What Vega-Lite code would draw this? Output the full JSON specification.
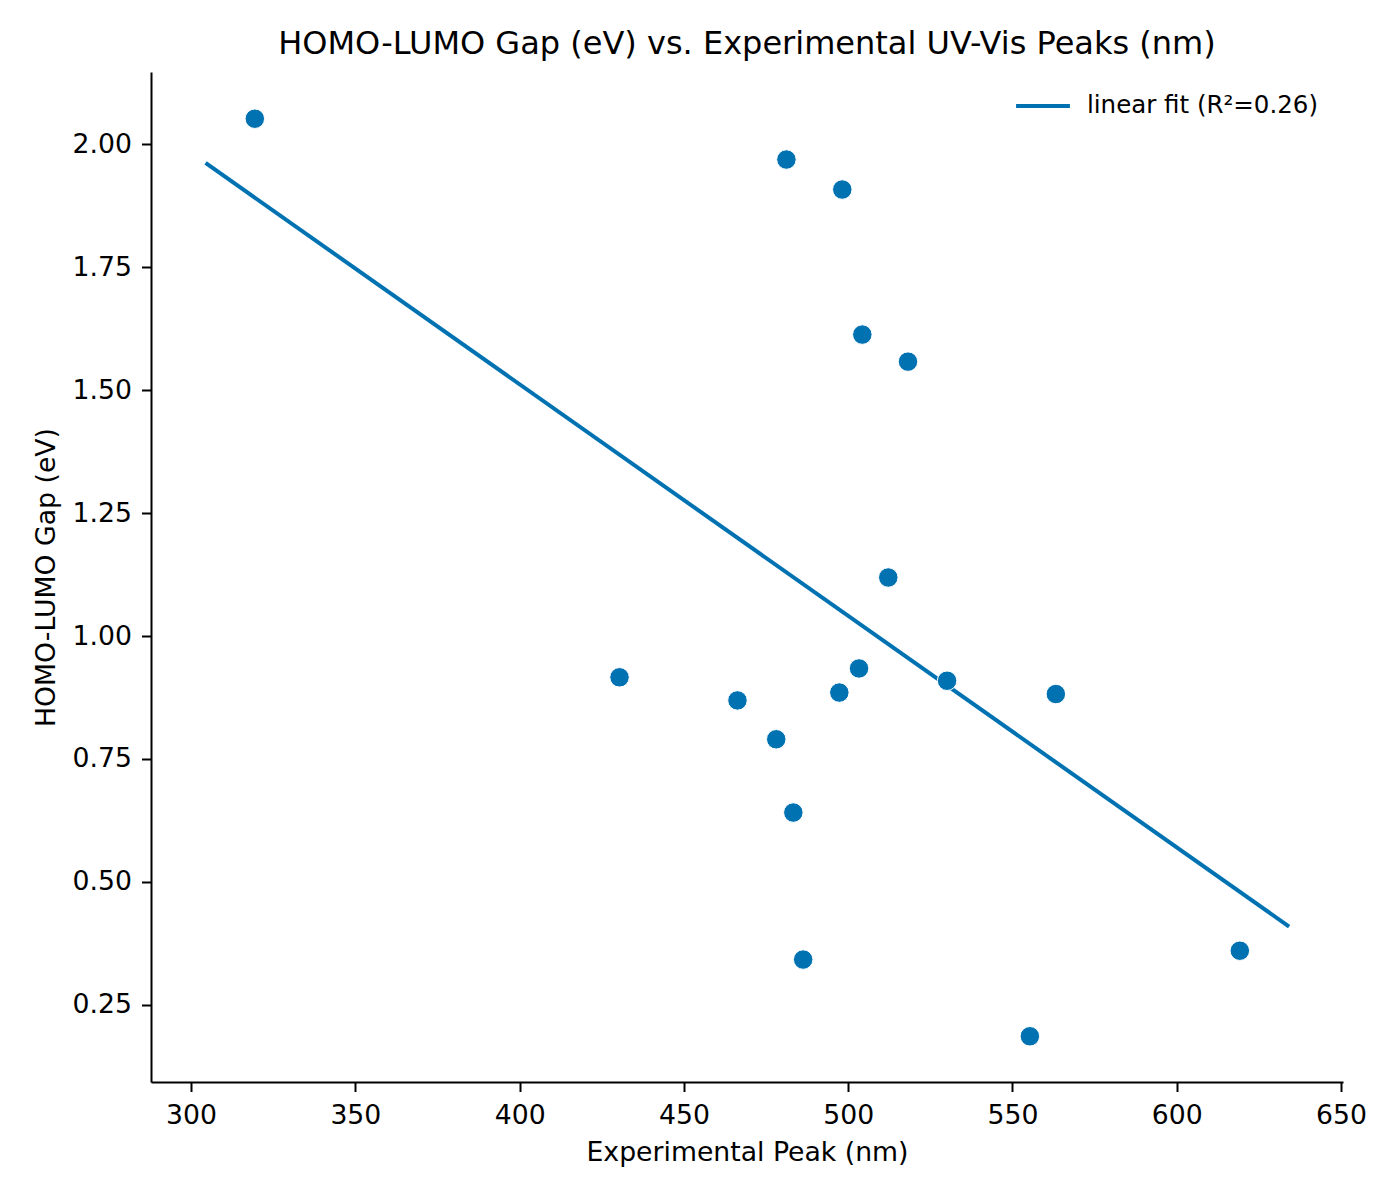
{
  "$schema": "https://vega.github.io/schema/vega-lite/v6.json",
  "width": 1192,
  "height": 1010,
  "autosize": {"type": "none"},
  "padding": {"left": 151, "top": 72, "right": 57, "bottom": 118},
  "background": "white",
  "title": {
    "text": "HOMO-LUMO Gap (eV) vs. Experimental UV-Vis Peaks (nm)",
    "font": "DejaVu Sans",
    "fontSize": 32,
    "fontWeight": "normal",
    "color": "black",
    "anchor": "middle",
    "baseline": "alphabetic",
    "offset": -14
  },
  "config": {
    "view": {"stroke": null},
    "font": "DejaVu Sans"
  },
  "datasets": {
    "peaks": [
      {"peak": 319.4, "gap": 2.052},
      {"peak": 481.2, "gap": 1.969},
      {"peak": 498.2, "gap": 1.908},
      {"peak": 504.3, "gap": 1.613},
      {"peak": 518.2, "gap": 1.558},
      {"peak": 512.2, "gap": 1.119},
      {"peak": 430.4, "gap": 0.916},
      {"peak": 466.3, "gap": 0.869},
      {"peak": 478.1, "gap": 0.790},
      {"peak": 483.3, "gap": 0.641},
      {"peak": 497.3, "gap": 0.885},
      {"peak": 503.3, "gap": 0.934},
      {"peak": 530.1, "gap": 0.909},
      {"peak": 563.2, "gap": 0.882},
      {"peak": 486.3, "gap": 0.342},
      {"peak": 555.3, "gap": 0.186},
      {"peak": 619.2, "gap": 0.360}
    ],
    "fit": [
      {"peak": 304.4, "gap": 1.962, "series": "linear fit (R²=0.26)"},
      {"peak": 634.2, "gap": 0.409, "series": "linear fit (R²=0.26)"}
    ]
  },
  "encoding": {
    "x": {
      "field": "peak",
      "type": "quantitative",
      "scale": {"domain": [287.8, 650.6], "nice": false, "zero": false},
      "axis": {
        "title": "Experimental Peak (nm)",
        "values": [300, 350, 400, 450, 500, 550, 600, 650],
        "grid": false,
        "domainColor": "black",
        "domainWidth": 2,
        "tickColor": "black",
        "tickWidth": 2,
        "tickSize": 9.5,
        "labelFontSize": 26.7,
        "labelColor": "black",
        "labelBaseline": "alphabetic",
        "labelPadding": 31.8,
        "labelFlush": false,
        "labelOverlap": false,
        "titleFontSize": 26.7,
        "titleFontWeight": "normal",
        "titleColor": "black",
        "titleBaseline": "alphabetic",
        "titleY": 78
      }
    },
    "y": {
      "field": "gap",
      "type": "quantitative",
      "scale": {"domain": [0.093, 2.147], "nice": false, "zero": false},
      "axis": {
        "title": "HOMO-LUMO Gap (eV)",
        "values": [0.25, 0.5, 0.75, 1.0, 1.25, 1.5, 1.75, 2.0],
        "format": ".2f",
        "grid": false,
        "domainColor": "black",
        "domainWidth": 2,
        "tickColor": "black",
        "tickWidth": 2,
        "tickSize": 9.5,
        "labelFontSize": 26.7,
        "labelColor": "black",
        "labelPadding": 10,
        "labelFlush": false,
        "labelOverlap": false,
        "titleFontSize": 26.7,
        "titleFontWeight": "normal",
        "titleColor": "black",
        "titleBaseline": "alphabetic",
        "titleX": -97
      }
    }
  },
  "layer": [
    {
      "data": {"name": "fit"},
      "mark": {"type": "line", "strokeWidth": 4},
      "encoding": {
        "color": {
          "field": "series",
          "type": "nominal",
          "scale": {"range": ["#0072B2"]},
          "legend": {
            "orient": "none",
            "legendX": 863,
            "legendY": 5,
            "title": null,
            "padding": 0,
            "symbolType": "stroke",
            "symbolSize": 2900,
            "symbolStrokeWidth": 4,
            "labelFontSize": 24.5,
            "labelColor": "black",
            "labelOffset": 15,
            "labelLimit": 400
          }
        }
      }
    },
    {
      "data": {"name": "peaks"},
      "mark": {
        "type": "circle",
        "size": 380,
        "color": "#0072B2",
        "opacity": 1,
        "stroke": "white",
        "strokeWidth": 1
      }
    }
  ]
}
